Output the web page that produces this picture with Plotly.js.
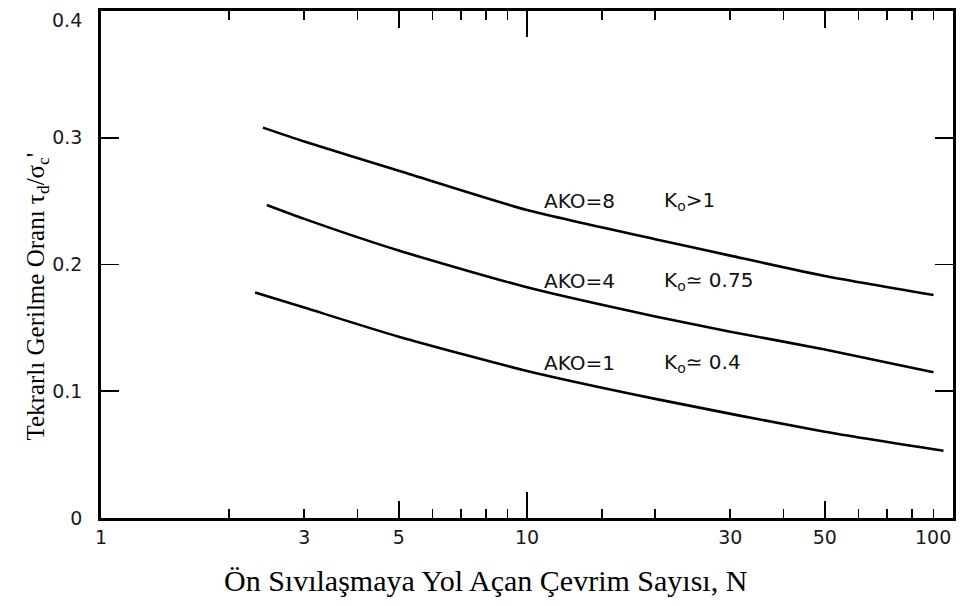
<!DOCTYPE html>
<html><head><meta charset="utf-8">
<script src="https://cdn.plot.ly/plotly-3.0.1.min.js"></script>
<style>html,body{margin:0;padding:0;background:#fff}</style>
</head><body><div id="chart" style="width:969px;height:606px"></div>
<script>
const cycles8 = [2.4, 3, 5, 10, 20, 30, 50, 90];
const ratio8 = [0.308, 0.297, 0.274, 0.243, 0.220, 0.207, 0.191, 0.176];
const cycles4 = [2.45, 3, 5, 10, 20, 30, 50, 90];
const ratio4 = [0.247, 0.236, 0.211, 0.182, 0.159, 0.147, 0.133, 0.115];
const cycles1 = [2.3, 3, 5, 10, 20, 50, 95];
const ratio1 = [0.178, 0.166, 0.143, 0.116, 0.094, 0.068, 0.053];

// tick labels; the end labels "100" and "0.4" sit inset from their ticks in the original
const xTickVals = [1, 3, 5, 10, 30, 50];
const xTickText = ['1', '3', '5', '10', '30', '50'];
const xEndLabel = '100';
const xMinorVals = [2, 4, 6, 7, 8, 9, 15, 20, 40, 60, 70, 80, 90];
const yTickVals = [0, 0.1, 0.2, 0.3];
const yTickText = ['0', '0.1', '0.2', '0.3'];
const yEndLabel = '0.4';

const labelAKO = ['AKO=8', 'AKO=4', 'AKO=1'];
const labelK = ['K<sub>o</sub>>1', 'K<sub>o</sub>≃ 0.75', 'K<sub>o</sub>≃ 0.4'];
const labelY = [0.25, 0.187, 0.122];
const labelXAKO = 10.85;
const labelXK = 20.7;

const lineStyle = {color: '#000', width: 2.6, shape: 'spline', smoothing: 0.6};
const traces = [
  {x: cycles8, y: ratio8, mode: 'lines', line: lineStyle, xaxis: 'x', yaxis: 'y', hoverinfo: 'skip'},
  {x: cycles4, y: ratio4, mode: 'lines', line: lineStyle, xaxis: 'x', yaxis: 'y', hoverinfo: 'skip'},
  {x: cycles1, y: ratio1, mode: 'lines', line: lineStyle, xaxis: 'x', yaxis: 'y', hoverinfo: 'skip'},
  {x: [10], y: [0.2], mode: 'markers', marker: {opacity: 0}, xaxis: 'x2', yaxis: 'y', hoverinfo: 'skip'},
  {x: [10], y: [0.2], mode: 'markers', marker: {opacity: 0}, xaxis: 'x3', yaxis: 'y', hoverinfo: 'skip'}
];

const tickFont = {family: 'DejaVu Sans, sans-serif', size: 19, color: '#1a1a1a'};
const labelFont = {family: 'DejaVu Sans, sans-serif', size: 20, color: '#111'};
const baseX = {type: 'log', range: [0, 2], showgrid: false, zeroline: false, fixedrange: true};

const annotations = [];
for (let i = 0; i < labelAKO.length; i++) {
  annotations.push({x: Math.log10(labelXAKO), y: labelY[i], xref: 'x', yref: 'y', text: labelAKO[i],
    showarrow: false, xanchor: 'left', yanchor: 'middle', font: labelFont});
  annotations.push({x: Math.log10(labelXK), y: labelY[i], xref: 'x', yref: 'y', text: labelK[i],
    showarrow: false, xanchor: 'left', yanchor: 'middle', font: labelFont});
}
annotations.push({x: 1.0, y: -0.012, xref: 'paper', yref: 'paper', text: xEndLabel,
  showarrow: false, xanchor: 'right', yanchor: 'top', font: tickFont});
annotations.push({x: -0.02, y: 0.982, xref: 'paper', yref: 'paper', text: yEndLabel,
  showarrow: false, xanchor: 'right', yanchor: 'middle', font: tickFont});
annotations.push({x: -0.095, y: 0.436, xref: 'paper', yref: 'paper', textangle: -90,
  text: "Tekrarlı Gerilme Oranı τ<sub>d</sub>/σ<sub>c</sub>'", showarrow: false,
  font: {family: 'Liberation Serif, Times New Roman, serif', size: 25, color: '#000'}});
annotations.push({x: 0.451, y: -0.16, xref: 'paper', yref: 'paper',
  text: 'Ön Sıvılaşmaya Yol Açan Çevrim Sayısı, N', showarrow: false,
  font: {family: 'Liberation Serif, Times New Roman, serif', size: 30, color: '#000'}});

const layout = {
  width: 969, height: 606,
  margin: {l: 101, r: 16, t: 11, b: 88, pad: 0},
  paper_bgcolor: '#fff', plot_bgcolor: '#fff',
  showlegend: false,
  xaxis: Object.assign({}, baseX, {
    tickmode: 'array', tickvals: xTickVals, ticktext: xTickText,
    ticks: 'inside', ticklen: 9, tickwidth: 1.6, tickcolor: '#000',
    showline: true, linecolor: '#000', linewidth: 2.8, mirror: 'ticks',
    tickfont: tickFont, ticklabelstandoff: 0, ticklabeloverflow: 'allow',
    minor: {tickmode: 'array', tickvals: xMinorVals, ticks: 'inside', ticklen: 9, tickwidth: 1.6, tickcolor: '#000', showgrid: false}
  }),
  xaxis2: Object.assign({}, baseX, {
    overlaying: 'x', anchor: 'y', tickmode: 'array', tickvals: [5, 50],
    ticks: 'inside', ticklen: 17, tickwidth: 1.6, tickcolor: '#000', showticklabels: false,
    showline: false, mirror: 'ticks'
  }),
  xaxis3: Object.assign({}, baseX, {
    overlaying: 'x', anchor: 'y', tickmode: 'array', tickvals: [10],
    ticks: 'inside', ticklen: 26, tickwidth: 1.6, tickcolor: '#000', showticklabels: false,
    showline: false, mirror: 'ticks'
  }),
  yaxis: {
    range: [0, 0.4], tickmode: 'array', tickvals: yTickVals, ticktext: yTickText,
    ticks: 'inside', ticklen: 18, tickwidth: 1.8, tickcolor: '#000',
    showline: true, linecolor: '#000', linewidth: 2.8, mirror: 'ticks',
    showgrid: false, zeroline: false, tickfont: tickFont, ticklabelstandoff: 12,
    ticklabeloverflow: 'allow', fixedrange: true
  },
  annotations: annotations
};

Plotly.newPlot('chart', traces, layout, {displayModeBar: false, staticPlot: true});
</script></body></html>
